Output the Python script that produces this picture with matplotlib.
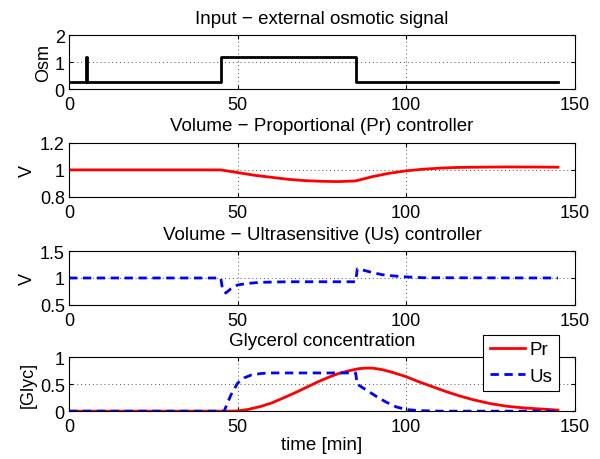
import matplotlib.pyplot as plt

plt.rcParams['font.family'] = ['Liberation Sans', 'DejaVu Sans']
plt.rcParams['font.size'] = 13

# Input osmotic signal
t_osm = [0, 5.0, 5.0, 5.3, 5.3, 45, 45, 85, 85, 145]
osm = [0.25, 0.25, 1.2, 1.2, 0.25, 0.25, 1.2, 1.2, 0.25, 0.25]

# Volume - proportional controller
t_pr = [0, 45, 50, 55, 60, 65, 70, 75, 80, 85, 90, 95, 100, 105, 110, 115, 120, 130, 140, 145]
v_pr = [1.0, 1.0, 0.98, 0.96, 0.945, 0.93, 0.92, 0.915, 0.913, 0.918, 0.95, 0.975, 0.993, 1.005, 1.013, 1.018, 1.02, 1.022, 1.021, 1.02]

# Volume - ultrasensitive controller
t_us = [0, 45, 45.5, 46.5, 48, 50, 53, 57, 65, 85, 85.5, 87, 90, 93, 96, 100, 105, 145]
v_us = [1.0, 1.0, 0.8, 0.72, 0.8, 0.87, 0.9, 0.92, 0.93, 0.93, 1.17, 1.15, 1.1, 1.06, 1.04, 1.02, 1.005, 1.0]

# Glycerol concentration
t_gpr = [0, 47, 50, 53, 57, 60, 63, 67, 70, 74, 77, 80, 83, 86, 88, 90, 93, 96, 100, 104, 108, 112, 116, 120, 125, 130, 135, 140, 145]
g_pr = [0, 0, 0.005, 0.03, 0.09, 0.15, 0.23, 0.34, 0.43, 0.55, 0.63, 0.7, 0.75, 0.79, 0.8, 0.8, 0.77, 0.72, 0.64, 0.54, 0.45, 0.36, 0.28, 0.21, 0.14, 0.09, 0.06, 0.04, 0.02]
t_gus = [0, 46, 48, 50, 52, 54, 57, 60, 70, 85, 85.5, 88, 91, 94, 97, 100, 104, 110, 145]
g_us = [0, 0, 0.3, 0.52, 0.62, 0.67, 0.7, 0.71, 0.71, 0.71, 0.5, 0.4, 0.28, 0.17, 0.08, 0.03, 0.01, 0.0, 0.0]

fig = plt.figure(figsize=(6, 4.6), dpi=100)
left, width = 0.115, 0.843
bottoms = [0.804, 0.570, 0.335, 0.104]
h = 0.117

axes = [fig.add_axes([left, b, width, h]) for b in bottoms]
tfs = 13.5

axes[0].plot(t_osm, osm, 'k', lw=2)
axes[0].set_ylim(0, 2)
axes[0].set_yticks([0, 1, 2])
axes[0].set_ylabel('Osm', labelpad=2)
axes[0].set_title('Input \u2212 external osmotic signal', fontsize=tfs, pad=9)

axes[1].plot(t_pr, v_pr, color='#ff0000', lw=2)
axes[1].set_ylim(0.8, 1.2)
axes[1].set_yticks([0.8, 1, 1.2])
axes[1].set_yticklabels(['0.8', '1', '1.2'])
axes[1].set_ylabel('V', labelpad=3)
axes[1].set_title('Volume \u2212 Proportional (Pr) controller', fontsize=tfs, pad=9)

axes[2].plot(t_us, v_us, color='#0000ff', lw=2, ls=(0, (3, 2)))
axes[2].set_ylim(0.5, 1.5)
axes[2].set_yticks([0.5, 1, 1.5])
axes[2].set_yticklabels(['0.5', '1', '1.5'])
axes[2].set_ylabel('V', labelpad=3)
axes[2].set_title('Volume \u2212 Ultrasensitive (Us) controller', fontsize=tfs, pad=9)

axes[3].plot(t_gpr, g_pr, color='#ff0000', lw=2, label='Pr')
axes[3].plot(t_gus, g_us, color='#0000ff', lw=2, ls=(0, (3, 2)), label='Us')
axes[3].set_ylim(0, 1)
axes[3].set_yticks([0, 0.5, 1])
axes[3].set_yticklabels(['0', '0.5', '1'])
axes[3].set_ylabel('[Glyc]', labelpad=2)
axes[3].set_xlabel('time [min]', fontsize=tfs, labelpad=1)
axes[3].set_title('Glycerol concentration', fontsize=tfs, pad=9)
leg = axes[3].legend(loc='upper right', bbox_to_anchor=(0.968, 1.42), borderaxespad=0,
                     fancybox=False, edgecolor='k', framealpha=1, fontsize=tfs,
                     handlelength=1.9, borderpad=0.35, labelspacing=0.5, handletextpad=0.2)
leg.get_frame().set_linewidth(0.8)

for ax in axes:
    ax.set_xlim(0, 150)
    ax.set_xticks([0, 50, 100, 150])
    ax.grid(True, ls=(0, (1, 3)), color='#555555', lw=0.7)
    ax.tick_params(direction='in', top=True, right=True, length=3)
    ax.tick_params(axis='x', pad=5)
    ax.tick_params(axis='y', pad=3)
    for s in ax.spines.values():
        s.set_linewidth(0.8)

plt.savefig('out.png', dpi=100)
